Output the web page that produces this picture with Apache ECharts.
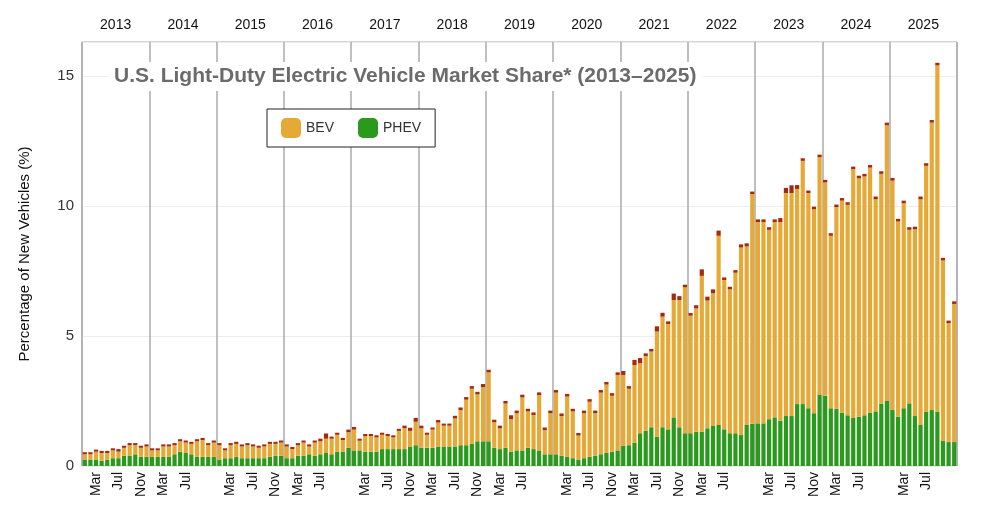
<!DOCTYPE html>
<html>
<head>
<meta charset="utf-8">
<script src="https://cdn.jsdelivr.net/npm/echarts@6/dist/echarts.min.js"></script>
<style>
  html, body { margin: 0; padding: 0; background: #fff; }
  #chart { width: 989px; height: 527px; }
</style>
</head>
<body>
<div id="chart"></div>
<script>
let d = document;

// years shown on top axis
let years = ["2013","2014","2015","2016","2017","2018","2019","2020","2021","2022","2023","2024","2025"];

// which month labels show on the bottom axis, per year
let monthLabels = [
  ["", "", "Mar", "", "", "", "Jul", "", "", "", "Nov", ""],
  ["", "", "Mar", "", "", "", "Jul", "", "", "", "", ""]
];
let withNov = [1,0,1,0,1,1,0,1,1,0,1,0,0];

// PHEV share, % (Jan 2013 .. Dec 2025)
let phev = [
  0.25,0.25,0.25,0.2,0.25,0.3,0.3,0.4,0.4,0.45,0.35,0.35,
  0.35,0.35,0.35,0.35,0.45,0.55,0.5,0.45,0.35,0.35,0.35,0.35,
  0.25,0.3,0.3,0.35,0.3,0.3,0.3,0.3,0.3,0.35,0.4,0.4,
  0.3,0.3,0.4,0.4,0.45,0.4,0.45,0.5,0.45,0.55,0.55,0.7,
  0.6,0.6,0.55,0.55,0.55,0.65,0.65,0.65,0.65,0.65,0.75,0.8,
  0.7,0.7,0.7,0.75,0.75,0.75,0.75,0.8,0.8,0.85,0.95,0.95,
  0.95,0.7,0.65,0.7,0.55,0.6,0.6,0.7,0.65,0.6,0.45,0.45,
  0.45,0.4,0.35,0.3,0.25,0.3,0.35,0.4,0.45,0.5,0.55,0.6,
  0.77,0.8,0.9,1.26,1.36,1.49,1.13,1.49,1.41,1.87,1.49,1.26,
  1.26,1.32,1.32,1.45,1.54,1.58,1.41,1.26,1.26,1.19,1.58,1.62,
  1.64,1.64,1.8,1.87,1.74,1.92,1.92,2.38,2.38,2.22,2.03,2.73,
  2.7,2.22,2.2,2.05,1.95,1.85,1.9,1.95,2.05,2.1,2.4,2.5,
  2.15,1.9,2.22,2.41,1.92,1.58,2.09,2.15,2.09,0.96,0.92,0.92
];

// total EV share (BEV + PHEV), %
let total = [
  0.45,0.45,0.55,0.5,0.5,0.6,0.55,0.7,0.8,0.8,0.7,0.75,
  0.6,0.6,0.75,0.75,0.8,0.95,0.9,0.85,0.95,1.0,0.8,0.9,
  0.8,0.6,0.8,0.85,0.75,0.8,0.75,0.7,0.75,0.85,0.85,0.9,
  0.75,0.65,0.8,0.9,0.75,0.9,0.95,1.05,1.05,1.2,1.0,1.3,
  1.4,0.97,1.15,1.15,1.1,1.2,1.15,1.1,1.35,1.45,1.35,1.7,
  1.45,1.2,1.4,1.67,1.55,1.55,1.83,2.15,2.55,2.97,2.75,3.03,
  3.6,1.68,1.45,2.4,1.8,2.03,2.64,2.1,1.96,2.73,1.38,2.03,
  2.82,1.92,2.67,2.1,1.17,2.03,2.47,2.03,2.82,3.13,2.7,3.5,
  3.5,2.97,3.88,3.95,4.23,4.4,5.17,5.74,5.46,6.38,6.38,6.87,
  5.78,6.06,7.31,6.36,6.64,8.85,7.15,6.79,7.43,8.4,8.44,10.45,
  9.38,9.38,9.08,9.38,9.38,10.49,10.49,10.65,11.73,10.49,9.87,11.87,
  10.9,8.85,9.95,10.2,10.04,11.41,11.06,11.13,11.47,10.26,11.23,13.1,
  10.97,9.4,10.1,9.08,9.1,10.26,11.54,13.2,15.4,7.9,5.49,6.23
];

// small dark cap seen on top of each bar, %
let cap = [
  0.08,0.08,0.08,0.08,0.08,0.08,0.1,0.08,0.08,0.08,0.08,0.08,
  0.08,0.08,0.08,0.08,0.08,0.08,0.08,0.08,0.08,0.08,0.08,0.08,
  0.08,0.08,0.08,0.08,0.08,0.08,0.08,0.08,0.08,0.08,0.08,0.08,
  0.08,0.08,0.08,0.08,0.08,0.08,0.1,0.2,0.08,0.08,0.08,0.1,
  0.1,0.08,0.08,0.08,0.08,0.08,0.08,0.08,0.08,0.1,0.12,0.15,
  0.1,0.08,0.08,0.1,0.08,0.08,0.1,0.1,0.1,0.1,0.1,0.12,
  0.1,0.1,0.1,0.1,0.15,0.1,0.1,0.1,0.1,0.1,0.1,0.1,
  0.1,0.1,0.1,0.1,0.1,0.1,0.1,0.1,0.1,0.1,0.1,0.1,
  0.15,0.1,0.2,0.2,0.1,0.1,0.2,0.15,0.1,0.25,0.15,0.1,
  0.1,0.12,0.25,0.15,0.15,0.2,0.1,0.1,0.1,0.12,0.12,0.1,
  0.1,0.1,0.1,0.1,0.15,0.2,0.3,0.15,0.1,0.1,0.1,0.1,
  0.1,0.1,0.1,0.1,0.1,0.1,0.1,0.1,0.1,0.1,0.1,0.1,
  0.1,0.1,0.1,0.1,0.1,0.1,0.1,0.1,0.1,0.1,0.1,0.1
];

let months = [];
years.forEach((y, i) => {
  let row = withNov[i] ? monthLabels[0] : monthLabels[1];
  row.forEach((m, j) => months.push(m + "|" + y + "-" + j));
});

let bev = total.map((t, i) => +(t - phev[i]).toFixed(2));

const chart = echarts.init(d.getElementById("chart"));
chart.setOption({
  backgroundColor: "#fff",
  animation: false,
  textStyle: { fontFamily: "Liberation Sans, Arial, sans-serif" },
  title: {
    text: "U.S. Light-Duty Electric Vehicle Market Share* (2013–2025)",
    left: 108, top: 62,
    backgroundColor: "#fff",
    padding: [4, 6],
    textStyle: { fontSize: 21, fontWeight: "bold", color: "#6b6b6b" }
  },
  legend: {
    data: ["BEV", "PHEV"],
    left: 267, top: 109,
    padding: [9, 14],
    itemGap: 24,
    itemWidth: 20, itemHeight: 20,
    backgroundColor: "#fff",
    borderColor: "#222", borderWidth: 1,
    textStyle: { fontSize: 14, color: "#333" }
  },
  grid: {
    left: 82, right: 32, top: 42, bottom: 61,
    show: true, borderColor: "#aaa", borderWidth: 1, backgroundColor: "transparent"
  },
  xAxis: [
    {
      type: "category",
      data: months,
      axisLine: { show: false },
      axisTick: { show: false },
      axisLabel: {
        interval: 0, rotate: 90, fontSize: 14, color: "#111", margin: 6,
        formatter: (v) => v.split("|")[0]
      }
    },
    {
      type: "category",
      data: years,
      position: "top",
      axisLine: { show: false },
      axisTick: { show: false },
      axisLabel: { fontSize: 14, color: "#111", margin: 10 },
      splitLine: { show: true, interval: 0, lineStyle: { color: "#aaa", width: 1.5 } }
    }
  ],
  yAxis: {
    type: "value",
    min: 0, max: 16.3, interval: 5,
    name: "Percentage of New Vehicles (%)",
    nameLocation: "middle",
    nameGap: 50,
    nameTextStyle: { fontSize: 15, color: "#111" },
    axisLabel: { fontSize: 15, color: "#333", showMaxLabel: false },
    axisLine: { show: false },
    axisTick: { show: false },
    splitLine: { lineStyle: { color: "#eee" } }
  },
  series: [
    {
      name: "PHEV", type: "bar", stack: "ev", data: phev,
      barCategoryGap: "25%",
      itemStyle: { color: "#2a9a1c" }
    },
    {
      name: "BEV", type: "bar", stack: "ev", data: bev,
      itemStyle: { color: "#e7a936" }
    },
    {
      name: "Other", type: "bar", stack: "ev", data: cap,
      itemStyle: { color: "#a8280c" }
    }
  ]
});
</script>
</body>
</html>
